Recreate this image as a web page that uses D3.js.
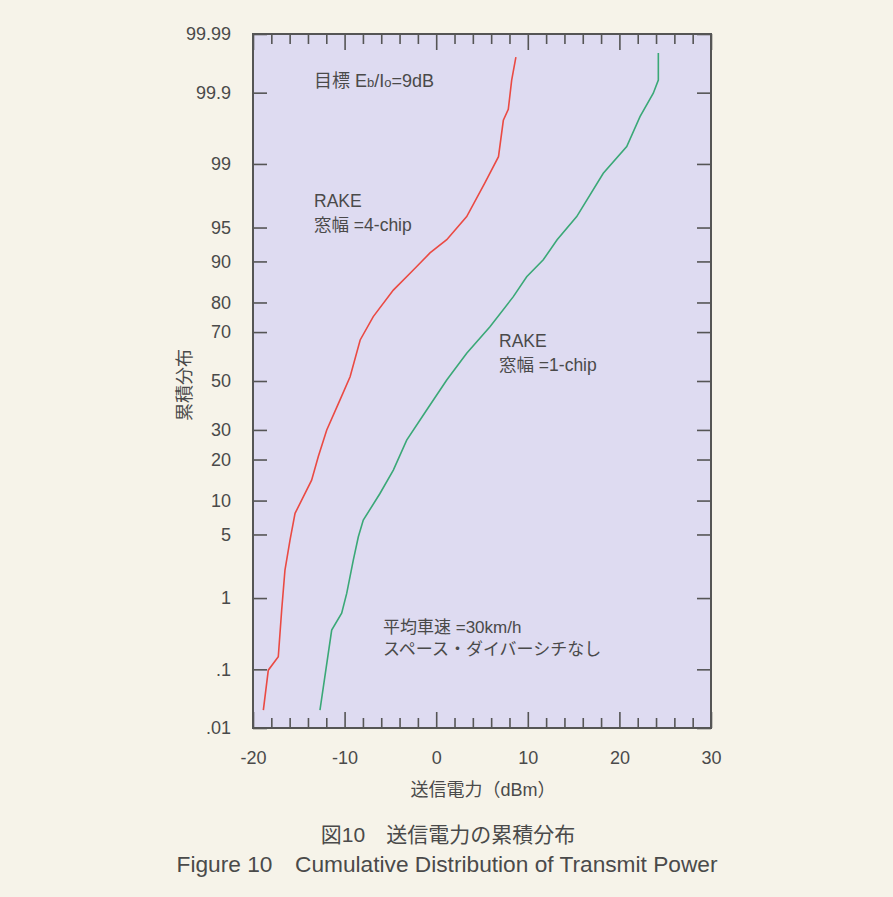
<!DOCTYPE html>
<html><head><meta charset="utf-8">
<script src="https://cdn.jsdelivr.net/npm/d3@7"></script>
<style>
html,body{margin:0;padding:0;background:#f6f3e9;}
svg{display:block;}
text{font-family:"Liberation Sans","Noto Sans CJK JP",Arial,sans-serif;fill:#4a4a4a;}
</style></head>
<body>
<script>
// ---- data ----
const yTickPercents = [0.01, 0.1, 1, 5, 10, 20, 30, 50, 70, 80, 90, 95, 99, 99.9, 99.99];
const yTickLabels = [".01", ".1", "1", "5", "10", "20", "30", "50", "70", "80", "90", "95", "99", "99.9", "99.99"];
const xMajorTicks = [-20, -10, 0, 10, 20, 30];
const xMinorTicks = [-18,-16,-14,-12,-8,-6,-4,-2,2,4,6,8,12,14,16,18,22,24,26,28];

const rake4Percent = [0.021, 0.097, 0.156, 0.70, 2.14, 4.4, 7.8, 14.4, 20.9, 30, 42, 51.8, 67, 75.5, 83.5, 88.3, 91.5, 93.5, 96.1, 98.3, 99.19, 99.74, 99.82, 99.937, 99.974];
const rake4Power   = [-18.87, -18.33, -17.24, -16.87, -16.51, -15.96, -15.41, -13.6, -12.87, -11.95, -10.5, -9.4, -8.3, -6.87, -4.68, -2.5, -0.68, 1.15, 3.33, 5.3, 6.8, 7.33, 7.87, 8.24, 8.7];

const rake1Percent = [0.021, 0.38, 0.64, 1.14, 2.75, 4.75, 6.8, 11.4, 17, 26.3, 37.8, 50.4, 61.7, 71.96, 81.7, 86.8, 90.3, 93.5, 96.1, 98.7, 99.4, 99.77, 99.898, 99.937, 99.978];
const rake1Power   = [-12.69, -11.41, -10.32, -9.77, -9.05, -8.5, -7.96, -6.14, -4.68, -3.22, -1.04, 1.15, 3.33, 5.87, 8.42, 9.88, 11.69, 13.2, 15.34, 18.24, 20.8, 22.25, 23.7, 24.25, 24.25];

// ---- inverse normal CDF (Acklam) ----
function probit(p){
  const a=[-3.969683028665376e+01,2.209460984245205e+02,-2.759285104469687e+02,1.383577518672690e+02,-3.066479806614716e+01,2.506628277459239e+00];
  const b=[-5.447609879822406e+01,1.615858368580409e+02,-1.556989798598866e+02,6.680131188771972e+01,-1.328068155288572e+01];
  const c=[-7.784894002430293e-03,-3.223964580411365e-01,-2.400758277161838e+00,-2.549732539343734e+00,4.374664141464968e+00,2.938163982698783e+00];
  const d=[7.784695709041462e-03,3.224671290700398e-01,2.445134137142996e+00,3.754408661907416e+00];
  const pl=0.02425, ph=1-pl; let q,r;
  if(p<pl){q=Math.sqrt(-2*Math.log(p));return (((((c[0]*q+c[1])*q+c[2])*q+c[3])*q+c[4])*q+c[5])/((((d[0]*q+d[1])*q+d[2])*q+d[3])*q+1);}
  if(p<=ph){q=p-0.5;r=q*q;return (((((a[0]*r+a[1])*r+a[2])*r+a[3])*r+a[4])*r+a[5])*q/(((((b[0]*r+b[1])*r+b[2])*r+b[3])*r+b[4])*r+1);}
  q=Math.sqrt(-2*Math.log(1-p));return -(((((c[0]*q+c[1])*q+c[2])*q+c[3])*q+c[4])*q+c[5])/((((d[0]*q+d[1])*q+d[2])*q+d[3])*q+1);
}
const z = pct => probit(pct/100);

const W=893, H=897;
const L=253, R=711, T=34, B=728;
const svg = d3.select("body").append("svg").attr("width",W).attr("height",H);

const x = d3.scaleLinear().domain([-20,30]).range([L,R]);
const y = d3.scaleLinear().domain([z(0.01), z(99.99)]).range([B,T]);

svg.append("rect").attr("x",L).attr("y",T).attr("width",R-L).attr("height",B-T).attr("fill","#dedbf1");

const axisColor="#555";
function styleAxis(g){ g.select(".domain").remove(); g.selectAll(".tick line").attr("stroke",axisColor).attr("stroke-width",1.6); }
const labelStyle = g=>g.selectAll("text").attr("font-size",18).attr("fill","#4a4a4a").attr("font-family","Liberation Sans, Arial, sans-serif");

// bottom axis (ticks inward)
svg.append("g").attr("transform",`translate(0,${B})`)
  .call(d3.axisBottom(x).tickValues(xMajorTicks).tickSize(-16).tickPadding(23).tickFormat(d=>d))
  .call(styleAxis).call(labelStyle);
svg.append("g").attr("transform",`translate(0,${B})`)
  .call(d3.axisBottom(x).tickValues(xMinorTicks).tickSize(-10).tickFormat(""))
  .call(styleAxis);
// top axis
svg.append("g").attr("transform",`translate(0,${T})`)
  .call(d3.axisTop(x).tickValues(xMajorTicks).tickSize(-16).tickFormat(""))
  .call(styleAxis);
svg.append("g").attr("transform",`translate(0,${T})`)
  .call(d3.axisTop(x).tickValues(xMinorTicks).tickSize(-10).tickFormat(""))
  .call(styleAxis);
// left axis
svg.append("g").attr("transform",`translate(${L},0)`)
  .call(d3.axisLeft(y).tickValues(yTickPercents.map(z)).tickSize(-14).tickPadding(22)
    .tickFormat((d,i)=>yTickLabels[i]))
  .call(styleAxis).call(labelStyle);
// right axis
svg.append("g").attr("transform",`translate(${R},0)`)
  .call(d3.axisRight(y).tickValues(yTickPercents.map(z)).tickSize(-14).tickFormat(""))
  .call(styleAxis);

// frame
svg.append("rect").attr("x",L).attr("y",T).attr("width",R-L).attr("height",B-T)
  .attr("fill","none").attr("stroke",axisColor).attr("stroke-width",2);

// curves
const line = d3.line().x(d=>x(d[0])).y(d=>y(z(d[1])));
svg.append("path").datum(d3.zip(rake4Power, rake4Percent)).attr("d",line)
  .attr("fill","none").attr("stroke","#ea4a43").attr("stroke-width",1.6);
svg.append("path").datum(d3.zip(rake1Power, rake1Percent)).attr("d",line)
  .attr("fill","none").attr("stroke","#3aa877").attr("stroke-width",1.6);

// annotations
const t1 = svg.append("text").attr("x",314).attr("y",87).attr("font-size",18);
t1.append("tspan").text("目標 E");
t1.append("tspan").attr("font-size",13).text("b");
t1.append("tspan").text("/I");
t1.append("tspan").attr("font-size",13).text("o");
t1.append("tspan").text("=9dB");

svg.append("text").attr("x",314).attr("y",207).attr("font-size",17.5).text("RAKE");
svg.append("text").attr("x",314).attr("y",231).attr("font-size",17.5).text("窓幅 =4-chip");
svg.append("text").attr("x",499).attr("y",347).attr("font-size",17.5).text("RAKE");
svg.append("text").attr("x",499).attr("y",371).attr("font-size",17.5).text("窓幅 =1-chip");
svg.append("text").attr("x",383).attr("y",633).attr("font-size",17).text("平均車速 =30km/h");
svg.append("text").attr("x",383).attr("y",655).attr("font-size",17).text("スペース・ダイバーシチなし");

// axis titles
svg.append("text").attr("transform","translate(191,385) rotate(-90)").attr("text-anchor","middle")
  .attr("font-size",18).text("累積分布");
svg.append("text").attr("x",483).attr("y",796).attr("text-anchor","middle").attr("font-size",18).text("送信電力（dBm）");

// caption
svg.append("text").attr("x",448).attr("y",842).attr("text-anchor","middle").attr("font-size",21).text("図10　送信電力の累積分布");
svg.append("text").attr("x",447).attr("y",872).attr("text-anchor","middle").attr("font-size",22.7).text("Figure 10　Cumulative Distribution of Transmit Power");
</script>
</body></html>
